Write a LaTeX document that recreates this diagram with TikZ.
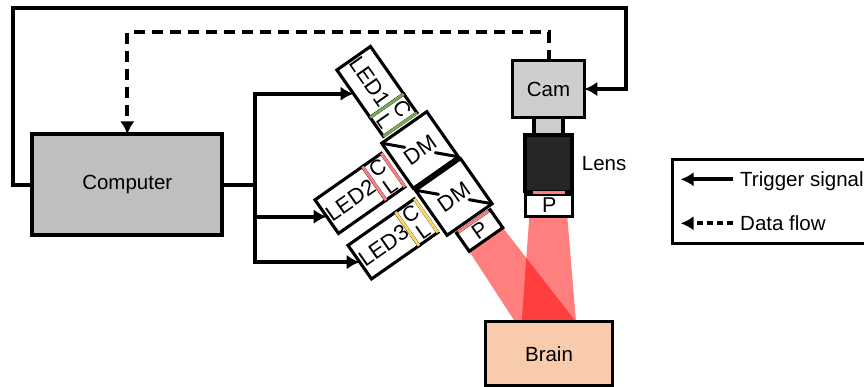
\documentclass[tikz,border=0pt]{standalone}
\usepackage{fontspec}
\setmainfont{Liberation Sans}
\usetikzlibrary{arrows.meta, positioning, calc, backgrounds}
\definecolor{fpComputer}{RGB}{191,191,191}
\definecolor{fpCam}{RGB}{207,205,206}
\definecolor{fpLens}{RGB}{38,38,38}
\definecolor{fpBrain}{RGB}{248,203,173}
\definecolor{fpGreen}{RGB}{124,168,92}
\definecolor{fpRed}{RGB}{255,124,128}
\definecolor{fpYellow}{RGB}{255,217,102}

\begin{document}
\begin{tikzpicture}[x=1pt,y=-1pt,
  lbl/.style={font=\fontsize{20.5}{20}\selectfont},
  part/.style={draw=black,line width=3.1pt,fill=white,inner sep=0pt,outer sep=0pt,
               font=\fontsize{22}{20}\selectfont,align=center},
  led/.style={part,minimum width=58pt,minimum height=41pt},
  coll/.style={part,minimum width=23pt,minimum height=41pt,anchor=west,
               font=\fontsize{21.5}{21.5}\selectfont},
  dm/.style={part,minimum width=55pt,minimum height=55pt,rotate=35},
  pol/.style={part,minimum width=41pt,minimum height=22pt,font=\fontsize{21.5}{20}\selectfont},
  block/.style={part,line width=3.3pt,lbl},
  trig/.style={line width=4pt,-{Latex[length=13pt,width=14.5pt]}},
  data/.style={trig,dash pattern=on 11pt off 7pt},
  tick/.style={line width=3pt,line cap=round},
  strip/.style={line width=2.8pt},
  beam/.style={fill=red,fill opacity=0.5}]
\useasboundingbox (0,0) rectangle (864,387);

% ===== Blocks =====
\node[block,line width=4pt,fill=fpComputer,minimum width=190pt,minimum height=100.6pt] (Computer) at (127.3,184.6) {Computer};
\node[block,fill=fpCam,minimum width=71.6pt,minimum height=56.6pt] (Cam) at (548.5,89) {Cam};
\node[block,fill=fpCam,minimum width=29pt,minimum height=17.7pt,anchor=north] (Neck) at (Cam.south) {};
\node[block,fill=fpLens,minimum width=47pt,minimum height=56.7pt,anchor=north] (Lens) at (Neck.south) {};
\node[lbl,anchor=west,inner sep=0pt] (LensLabel) at (581.7,163.3) {Lens};
\node[pol,minimum width=47pt,minimum height=22.4pt] (PCam) at (549.2,205.5) {P};
\node[block,fill=fpBrain,minimum width=126.6pt,minimum height=64.3pt] (Brain) at (549,353.8) {Brain};

% ===== LED arm =====
\node[led,rotate=-55] (LED1) at (370.3,82) {LED1};
\node[coll,rotate=-55] (CL1) at (LED1.east) {C\\L};
\node[led,rotate=35] (LED2) at (350.5,200) {LED2};
\node[coll,rotate=35] (CL2) at (LED2.east) {C\\L};
\node[led,rotate=35] (LED3) at (383.5,245.5) {LED3};
\node[coll,rotate=35] (CL3) at (LED3.east) {C\\L};
\node[dm] (DM1) at (420,150) {DM};
\node[dm] (DM2) at (453.8,197) {DM};
\node[pol,rotate=35] (PLed) at (479.7,230.5) {P};

% mirrors
\draw[tick] (DM1.north west) -- ($(DM1.north west)!0.3!(DM1.south east)$);
\draw[tick] (DM1.south east) -- ($(DM1.south east)!0.3!(DM1.north west)$);
\draw[tick] (DM2.north west) -- ($(DM2.north west)!0.3!(DM2.south east)$);
\draw[tick] (DM2.south east) -- ($(DM2.south east)!0.3!(DM2.north west)$);

% filters
\draw[strip,fpGreen] (LED1.south east) -- (LED1.north east);
\draw[strip,fpGreen] (CL1.south east) -- (CL1.north east);
\draw[strip,fpRed] (LED2.south east) -- (LED2.north east);
\draw[strip,fpRed] (CL2.south east) -- (CL2.north east);
\draw[strip,fpYellow] (LED3.south east) -- (LED3.north east);
\draw[strip,fpYellow] (CL3.south east) -- (CL3.north east);
\draw[strip,fpRed] ($(PLed.north west)!0.05!(PLed.north east)$) -- ($(PLed.north west)!0.95!(PLed.north east)$);
\draw[strip,fpRed] (533,192.7) -- (565,192.7);

% ===== Beams =====
\begin{scope}[on background layer]
  \fill[beam] (PLed.south west) -- (PLed.south east) -- (576,321.7) -- (515,321.7) -- cycle;
  \fill[beam] (529.3,216.7) -- (567.3,216.7) -- (576,321.7) -- (521.7,321.7) -- cycle;
\end{scope}

% ===== Connectors =====
\coordinate (trunk) at (255,184.6);
\coordinate (trigL) at (13.3,8.3);
\coordinate (trigR) at (626,8.3);
\coordinate (dataL) at (127.3,32.3);
\draw[trig,-] (Computer.east) -- (trunk);
\draw[trig] (trunk) |- (LED1.south);
\draw[trig] (trunk) |- (LED2.west);
\draw[trig] (trunk) |- (LED3.west);
\draw[trig] (Computer.west) -| (trigL) -- (trigR) |- (Cam.east);
\draw[data] (Cam.north) |- (dataL) -- (Computer.north);

% ===== Legend =====
\draw[line width=3pt] (864,160) -| (672.3,243.3) -- (864,243.3);
\node[lbl,anchor=west,inner sep=0pt] (TrigText) at (740,181.5) {Trigger signal};
\node[lbl,anchor=west,inner sep=0pt] (DataText) at (740,223.5) {Data flow};
\coordinate (trigA) at (732.7,179.3);
\coordinate (trigB) at (680.7,179.3);
\coordinate (dataA) at (732.7,223.3);
\coordinate (dataB) at (680.7,223.3);
\draw[trig] (trigA) -- (trigB);
\draw[trig,dash pattern=on 6pt off 4pt] (dataA) -- (dataB);
\end{tikzpicture}
\end{document}
